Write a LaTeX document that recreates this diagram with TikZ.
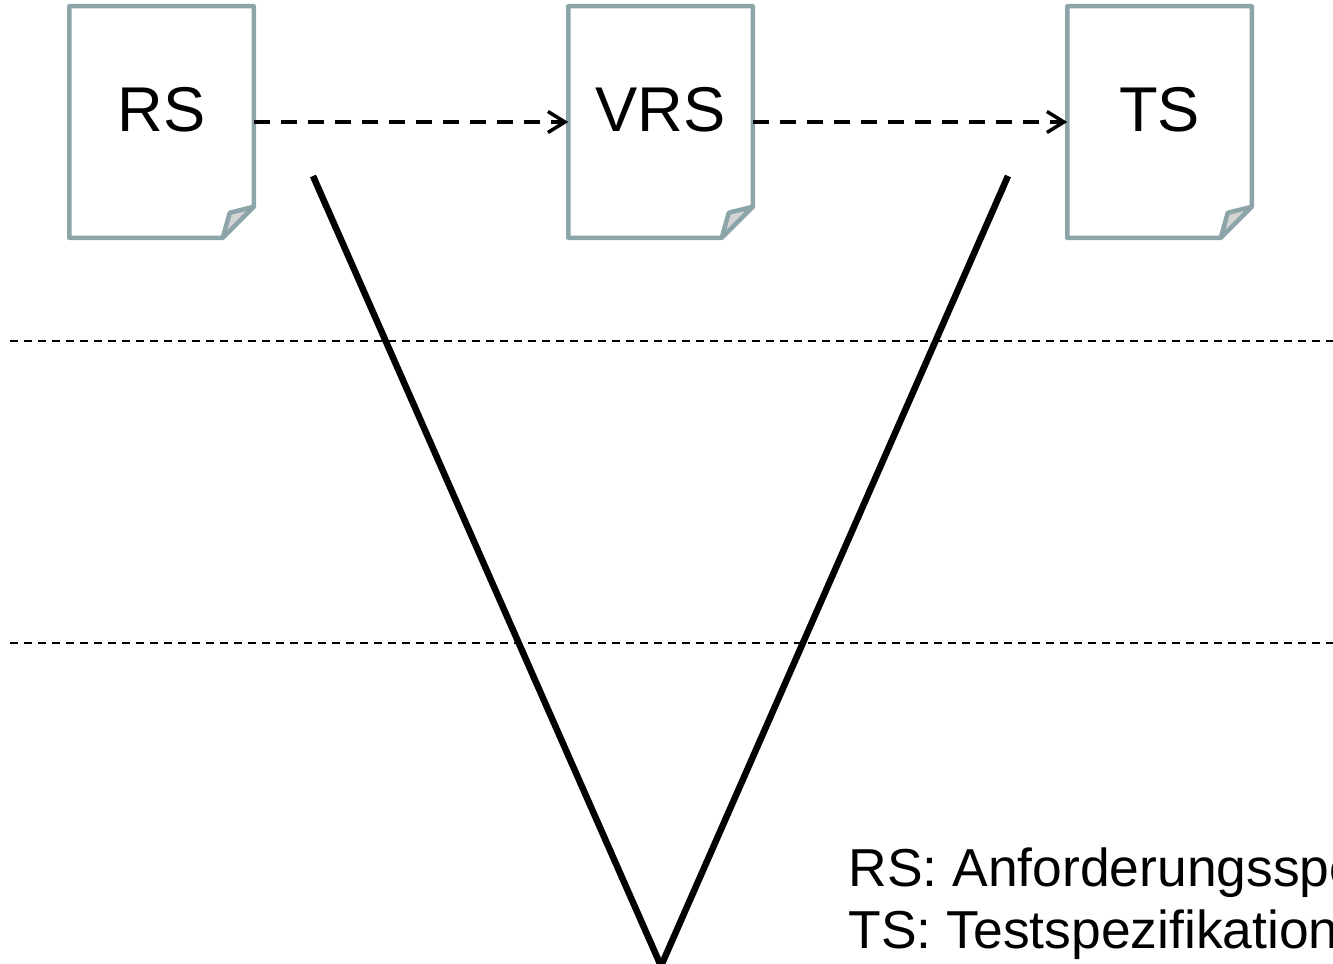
\documentclass[tikz,border=0pt]{standalone}
\usepackage{fontspec}
\setmainfont{Liberation Sans}
\usetikzlibrary{positioning,arrows.meta}
\definecolor{docgray}{HTML}{8BA5A8}
\definecolor{foldgray}{HTML}{D3D3D3}

\begin{document}
\begin{tikzpicture}[
  doc/.style={minimum width=1.80cm, minimum height=2.27cm, inner sep=0pt, outer sep=0.0225cm, text depth=0.26cm, font=\fontsize{18}{20}\selectfont},
  docline/.style={docgray, line width=0.045cm, line join=round},
  flow/.style={black, line width=0.035cm, dash pattern=on 0.16cm off 0.11cm, -{Straight Barb[length=0.17cm, width=0.21cm]}},
  level/.style={black, line width=0.013cm, dash pattern=on 0.08cm off 0.06cm}]
\clip (0,0) rectangle (13.33,9.63);
% documents
\node[doc] (rs) at (1.615,8.41) {RS};
\node[doc, right=3.145cm of rs] (vrs) {VRS};
\node[doc, right=3.145cm of vrs] (ts) {TS};
\foreach \n in {rs,vrs,ts} {
  \draw[docline] (\n.north west) -- (\n.north east) -- ([yshift=0.31cm]\n.south east) -- ([xshift=-0.31cm]\n.south east) -- (\n.south west) -- cycle;
  \filldraw[docline, fill=foldgray] ([yshift=0.31cm]\n.south east) -- ([xshift=-0.24cm,yshift=0.25cm]\n.south east) -- ([xshift=-0.31cm]\n.south east) -- cycle;
}
\draw[flow] (rs) -- (vrs);
\draw[flow] (vrs) -- (ts);
% levels
\draw[level] (0.10,6.22) -- (13.33,6.22);
\draw[level] (0.10,3.20) -- (13.33,3.20);
% V
\coordinate (vl) at (3.13,7.87);
\coordinate (vb) at (6.61,-0.03);
\coordinate (vr) at (10.08,7.87);
\draw[black, line width=0.065cm, line join=miter] (vl) -- (vb) -- (vr);
% legend
\node[anchor=base west, align=left, inner sep=0pt, font=\fontsize{15.2}{17.4}\selectfont] (legend) at (8.48,0.15) {RS: Anforderungsspezifikation\\TS: Testspezifikation};
\end{tikzpicture}
\end{document}
